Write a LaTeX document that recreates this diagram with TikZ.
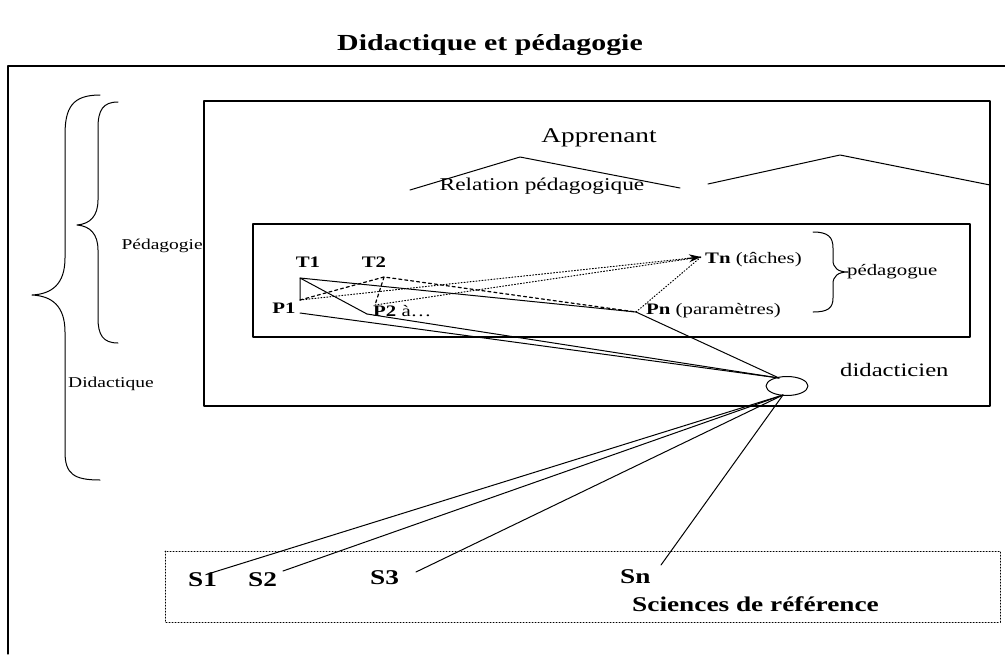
\documentclass[tikz,border=0pt]{standalone}
\usepackage{fontspec}
\setmainfont{Liberation Serif}[FakeStretch=1.3]
\usetikzlibrary{shapes.geometric,arrows.meta,calc}
\newcommand{\taille}[1]{\fontsize{#1}{#1}\selectfont}
\begin{document}
\begin{tikzpicture}[x=1pt,y=-1pt,>={Stealth[length=12pt,width=8pt]},line join=round,line cap=round,
	cadre/.style={line width=1.3pt},
	trait/.style={line width=1pt},
	pointille/.style={line width=1pt,dotted},
	tiret/.style={line width=1.2pt,dashed},
	every node/.style={inner sep=0pt}]
	\useasboundingbox (0,0) rectangle (1005,654);
	% cadres
	\draw[cadre] (8,654)|-(1005,66);
	\draw[cadre] (204,101) rectangle (990,406);
	\draw[cadre] (253,224) rectangle (970,337);
	\draw[trait,dotted] (165,551) rectangle (1000,622);
	\node (titre) at (490,45) {\taille{23}\bfseries Didactique et pédagogie};
	% accolades
	\draw[trait] (100,95) .. controls (72,95) and (65,108) .. (65,135)--(65,258) .. controls (65,284) and (52,294) .. (32,295) .. controls (52,296) and (65,306) .. (65,332)--(65,452) .. controls (65,474) and (74,480) .. (100,480);
	\draw[trait] (118,102) .. controls (103,102) and (98,110) .. (98,128)--(98,200) .. controls (98,216) and (90,224) .. (77,225) .. controls (90,226) and (98,234) .. (98,250)--(98,318) .. controls (98,335) and (103,343) .. (118,343);
	\draw[trait] (813,232) .. controls (828,232) and (833,237) .. (833,248)--(833,260) .. controls (833,268) and (838,272) .. (848,272) .. controls (838,272) and (833,276) .. (833,284)--(833,298) .. controls (833,308) and (828,312) .. (813,312);
	\node[anchor=east] (peda) at (203,246) {\taille{15}Pédagogie};
	\node[anchor=west] (didact) at (68,384) {\taille{15}Didactique};
	% apprenant
	\node (appr) at (599,138) {\taille{21}Apprenant};
	\node (relation) at (542,186) {\taille{18}Relation pédagogique};
	\draw[trait] (410,190)--(520,157)--(680,188);
	\draw[trait] (708,184)--(840,155)--(990,185);
	% taches et parametres
	\node (t1l) at (308,262) {\taille{16}\bfseries T1};
	\node (t2l) at (374,262) {\taille{16}\bfseries T2};
	\node (p1l) at (284,308) {\taille{16}\bfseries P1};
	\node[anchor=west] (p2l) at (373,311) {\taille{16}{\bfseries P2} à\dots};
	\node[anchor=west] (tnl) at (705,260) {\taille{16}{\bfseries Tn} (tâches)};
	\node[anchor=west] (pnl) at (646,311) {\taille{16}{\bfseries Pn} (paramètres)};
	\node[anchor=west] (pedagogue) at (847,272) {\taille{16}pédagogue};
	\coordinate (t1) at (300,278);
	\coordinate (p1) at (300,300);
	\coordinate (p1b) at (300,313);
	\coordinate (t2) at (384,277);
	\coordinate (p2) at (367,314);
	\coordinate (p2d) at (375,305);
	\coordinate (pn) at (636,312);
	\coordinate (tn) at (701,257);
	\draw[trait] (p1)--(t1)--(p2);
	\draw[trait] (t1)--(pn);
	\draw[tiret] (p1)--(t2)--(pn);
	\draw[tiret] (t2)--(p2d);
	\draw[pointille] (p1)--(tn);
	\draw[trait,->] ($(tn)!14pt!(p1)$)--(tn);
	\draw[pointille] (p2d)--(tn);
	\draw[pointille] (pn)--(tn);
	% didacticien
	\node[draw,trait,ellipse,minimum width=42pt,minimum height=19pt] (ell) at (787,386) {};
	\node[anchor=west] (didacticien) at (840,370) {\taille{19}didacticien};
	\coordinate (haut) at (779,378);
	\coordinate (bas) at (783,395);
	\draw[trait] (p1b)--(haut);
	\draw[trait] (p2)--(haut);
	\draw[trait] (pn)--(haut);
	% sciences de reference
	\node[anchor=west] (s1l) at (188,580) {\taille{21}\bfseries S1};
	\node[anchor=west] (s2l) at (248,580) {\taille{21}\bfseries S2};
	\node[anchor=west] (s3l) at (370,578) {\taille{21}\bfseries S3};
	\node[anchor=west] (snl) at (620,577) {\taille{21}\bfseries Sn};
	\node[anchor=west] (sciences) at (632,604) {\taille{21}\bfseries Sciences de référence};
	\coordinate (s1) at (211,573);
	\coordinate (s2) at (283,571);
	\coordinate (s3) at (416,572);
	\coordinate (sn) at (661,565);
	\draw[trait] (bas)--(s1);
	\draw[trait] (bas)--(s2);
	\draw[trait] (bas)--(s3);
	\draw[trait] (bas)--(sn);
\end{tikzpicture}
\end{document}
